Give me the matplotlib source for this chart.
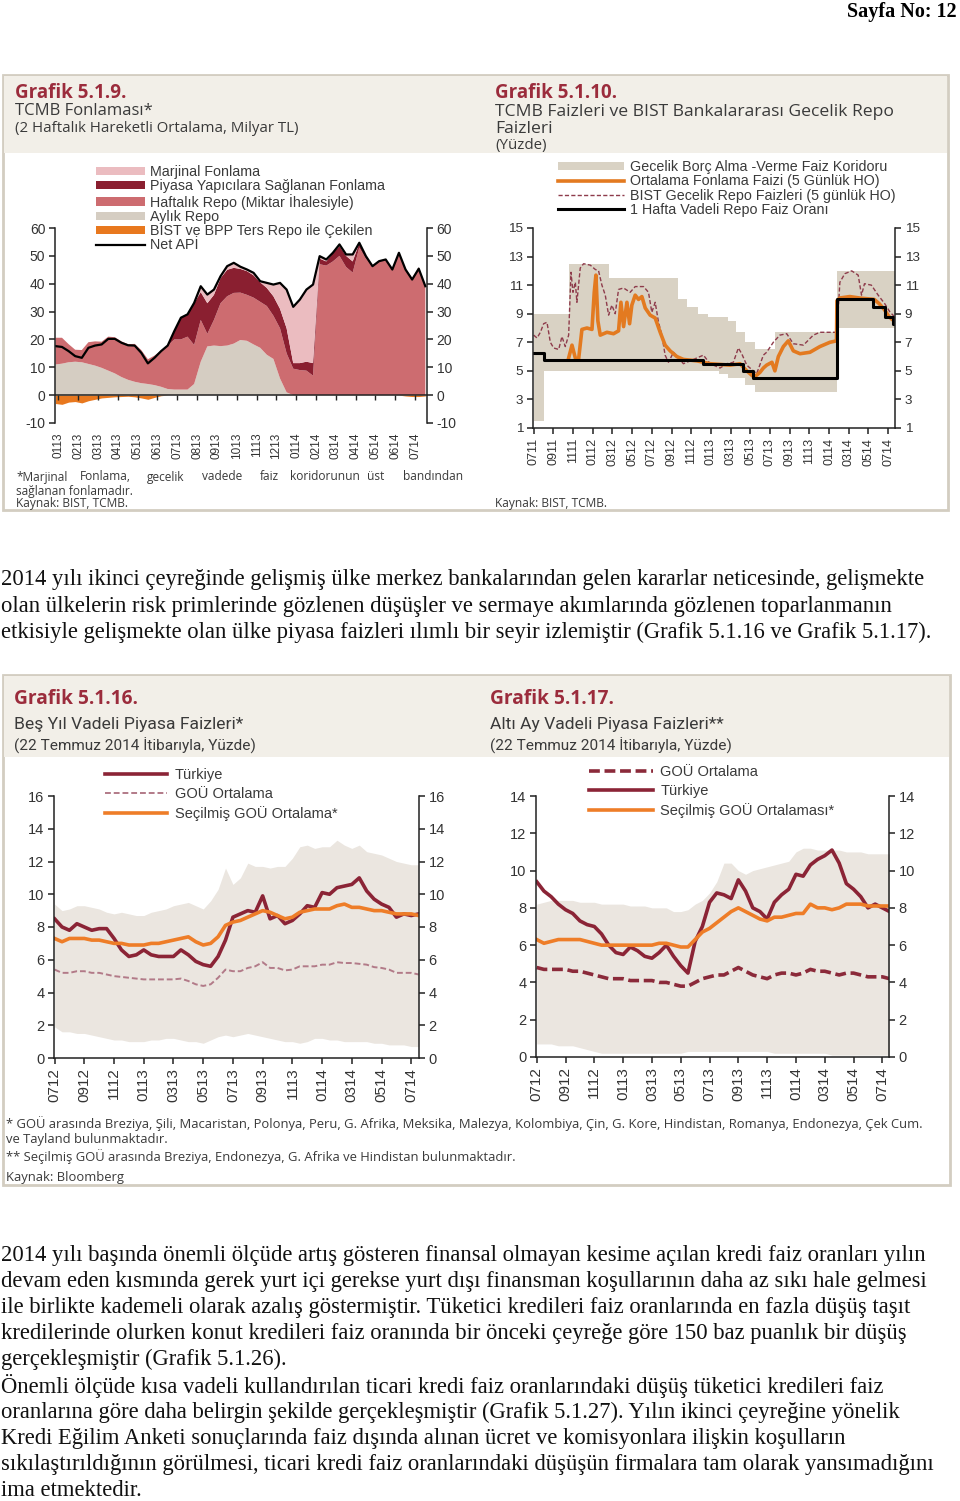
import numpy as np
import matplotlib
matplotlib.use("Agg")
import matplotlib.pyplot as plt
from matplotlib.patches import Rectangle

plt.rcParams["font.family"] = ["Liberation Sans", "DejaVu Sans"]
plt.rcParams["axes.unicode_minus"] = False

# --- Grafik 5.1.9: TCMB fonlamasi (x = months since Jan 2013, ~10 day steps) ---
fund_months = np.arange(57) / 3 - 0.15
aylik_repo = [11.0, 11.3, 11.8, 12.0, 11.8, 11.2, 10.6, 9.8, 8.8, 7.8, 6.5, 5.5, 4.8, 4.3, 4.0,
              3.6, 3.0, 2.2, 2.0, 2.0, 2.0, 4.0, 12.0, 17.5, 17.8, 17.6, 17.8, 18.5, 19.8, 19.5,
              18.2, 17.0, 14.5, 13.0, 6.0, 1.0, 0, 0, 0, 0, 0, 0, 0, 0, 0, 0, 0, 0, 0, 0, 0, 0,
              0, 0, 0, 0, 0]
haftalik_repo = [9.6, 9.3, 6.5, 4.3, 4.4, 7.8, 8.7, 9.4, 12.2, 13.0, 12.8, 12.8, 13.6, 11.9, 8.9,
                 10.6, 13.0, 15.6, 18.0, 18.0, 19.0, 14.0, 15.0, 4.5, 9.2, 15.4, 17.7, 18.2, 17.0,
                 16.5, 16.8, 16.5, 17.5, 15.5, 18.0, 14.0, 9.5, 9.0, 8.8, 7.0, 47.0, 46.5, 48.0,
                 50.0, 46.0, 44.0, 53.0, 49.0, 46.3, 48.1, 48.7, 45.1, 51.1, 45.4, 42.0, 45.9, 39.4]
piyasa_yapici = [0, 0, 0, 0, 0, 0, 0, 0, 0, 0, 0, 0, 0, 0, 0, 0, 0, 0,
                 3.0, 7.8, 8.0, 15.0, 10.0, 11.0, 9.0, 9.0, 9.5, 9.0, 8.5, 8.5, 8.0, 7.0, 6.5,
                 7.0, 7.0, 9.0, 2.0, 2.5, 3.2, 4.5, 2.0, 1.5, 3.0, 3.5, 4.0, 4.0, 1.5, 0.9,
                 0, 0, 0, 0, 0, 0, 0, 0, 0]
marjinal = [0, 0, 0, 0, 0, 0, 0, 0, 0, 0, 0, 0, 0, 0, 0, 0, 0, 0, 0, 0, 0,
            0.1, 2.1, 3.1, 1.9, 0.7, 1.3, 1.8, 0.8, 0.6, 0.9, 0.4, 1.8, 4.2, 9.3, 13.9, 20.2,
            22.8, 25.9, 28.2, 0.9, 0.7, 0.1, 0.6, 0.5, 2.5, 0.2,
            0, 0, 0, 0, 0, 0, 0, 0, 0, 0]
bist_ters_repo = [-3.0, -3.3, -2.5, -2.3, -2.8, -2.0, -1.5, -1.0, -0.8, -0.6, -0.5, -0.4, -0.6,
                  -1.0, -1.5, -0.8, -0.2, 0, 0, 0, 0, 0, 0, 0, 0, 0, 0, 0, 0, 0, 0, 0, 0, 0, 0,
                  0, 0, 0, 0, 0, 0, 0, 0, 0, 0, 0, 0, 0, 0, 0, 0, 0, 0, -0.3, -0.5, -0.5, -0.3]
net_api = [17.6, 17.3, 15.8, 14.0, 13.4, 17.0, 17.8, 18.2, 20.2, 20.2, 18.8, 17.9, 17.8, 15.2,
           11.4, 13.4, 15.8, 17.8, 23.0, 27.8, 29.0, 33.1, 39.1, 36.1, 37.9, 42.7, 46.3, 47.5,
           46.1, 45.1, 43.9, 40.9, 40.3, 39.7, 40.3, 37.9, 31.7, 34.3, 37.9, 39.7, 49.9, 48.7,
           51.1, 54.1, 50.5, 50.5, 54.7, 49.9, 46.3, 48.1, 48.7, 45.1, 51.1, 45.1, 41.5, 45.4, 39.1]
fund_ticks = ["0113", "0213", "0313", "0413", "0513", "0613", "0713", "0813", "0913", "1013",
              "1113", "1213", "0114", "0214", "0314", "0414", "0514", "0614", "0714"]

# --- Grafik 5.1.10: faizler (x = months since Jul 2011) ---
corr_x = [0, 1.0, 3.55, 7.7, 14.7, 15.6, 16.7, 17.7, 18.8, 19.7, 20.6, 21.5, 22.5, 24.5, 30.8, 36.7]
corr_lo = [1.5, 5.0, 5.0, 5.0, 5.0, 5.0, 5.0, 5.0, 4.75, 4.5, 4.5, 4.0, 3.5, 3.5, 8.0, 8.0]
corr_hi = [9.0, 9.0, 12.5, 11.5, 10.0, 9.5, 9.0, 8.75, 8.75, 8.5, 7.75, 7.0, 6.5, 7.75, 12.0, 12.0]
ofr_x = [3.55, 3.89, 4.23, 4.56, 4.90, 5.41, 5.92, 6.15, 6.32, 6.52, 6.76, 7.44, 8.11, 8.62, 8.86,
         9.13, 9.47, 9.74, 9.97, 10.31, 10.65, 10.99, 11.33, 11.83, 12.34, 12.85, 13.35, 13.86,
         14.54, 15.21, 16.57, 17.92, 19.95, 20.96, 21.64, 22.31, 22.65, 22.99, 23.33, 23.66, 24.2,
         24.5, 24.85, 25.36, 25.86, 26.37, 27.05, 28.06, 29.07, 30.09, 30.76, 30.8, 31.1, 32.1,
         33.1, 34.6, 35.1, 35.6, 36.1, 36.4, 36.68]
ofr_rate = [5.9, 6.8, 5.9, 5.8, 7.9, 8.0, 7.9, 10.5, 11.7, 8.5, 7.5, 7.7, 7.6, 7.8, 9.8, 8.1, 9.8,
            8.3, 9.6, 10.3, 10.0, 10.2, 9.4, 8.9, 8.7, 7.7, 6.8, 6.4, 6.0, 5.8, 5.7, 5.5, 5.4, 5.5,
            5.0, 4.6, 4.7, 4.9, 5.2, 5.4, 5.6, 5.0, 6.0, 6.7, 7.1, 6.4, 6.2, 6.3, 6.7, 7.0, 7.1,
            9.9, 10.1, 10.2, 10.1, 10.0, 9.7, 9.3, 8.8, 8.6, 8.5]
bist_x = [0, 0.34, 0.68, 1.01, 1.35, 1.69, 2.03, 2.54, 2.87, 3.21, 3.55, 3.79, 3.99, 4.23, 4.39,
          4.73, 5.07, 5.75, 6.25, 6.59, 6.93, 7.27, 7.61, 7.94, 8.28, 8.62, 9.13, 9.8, 10.31,
          11.16, 11.66, 12.0, 12.34, 12.68, 13.02, 13.35, 13.69, 14.2, 14.71, 15.21, 16.23, 17.24,
          17.92, 18.93, 19.61, 20.28, 20.79, 21.13, 21.64, 22.14, 22.65, 23.33, 23.66, 24.34, 25.0,
          25.7, 26.37, 27.4, 28.4, 29.07, 30.1, 30.8, 31.1, 31.6, 32.3, 32.96, 33.3, 33.6, 34.3,
          34.99, 35.66, 36.2, 36.5, 36.7]
bist_rate = [7.5, 7.3, 7.7, 8.3, 8.4, 7.0, 6.6, 6.5, 7.4, 6.7, 7.5, 11.9, 10.5, 11.2, 9.8, 12.2,
             12.5, 12.4, 12.1, 12.0, 11.0, 10.3, 8.9, 9.6, 9.0, 10.7, 10.8, 10.5, 10.9, 10.9, 10.5,
             9.1, 9.8, 8.4, 7.5, 6.1, 5.6, 6.3, 5.9, 5.5, 5.8, 6.1, 5.5, 5.2, 5.5, 5.6, 6.6, 6.2,
             5.4, 5.1, 4.8, 6.1, 6.3, 7.0, 7.5, 7.6, 6.9, 6.8, 7.5, 7.7, 7.7, 7.7, 11.2, 11.8,
             12.0, 11.7, 10.3, 11.1, 11.0, 10.3, 9.7, 9.1, 8.9, 8.7]
repo_x = [0, 1.0, 17.2, 21.3, 22.3, 30.8, 34.5, 35.7, 36.5, 36.7]
repo_rate = [6.25, 5.75, 5.5, 5.0, 4.5, 10.0, 9.5, 8.75, 8.25, 8.25]
rate_ticks = ["0711", "0911", "1111", "0112", "0312", "0512", "0712", "0912", "1112", "0113",
              "0313", "0513", "0713", "0913", "1113", "0114", "0314", "0514", "0714"]

# --- Grafik 5.1.16 / 5.1.17 (x = months since Jul 2012, half-month steps) ---
mkt_months = np.arange(50) * 0.5
tr_5y = [8.5, 8.0, 7.8, 8.2, 8.0, 7.8, 7.9, 7.9, 7.3, 6.6, 6.2, 6.3, 6.6, 6.3, 6.2, 6.2, 6.2, 6.6,
         6.3, 5.9, 5.7, 5.6, 6.2, 7.2, 8.6, 8.8, 9.0, 8.9, 9.9, 8.5, 8.7, 8.2, 8.4, 8.8, 9.3, 9.2,
         10.1, 10.0, 10.4, 10.5, 10.6, 11.0, 10.2, 9.7, 9.4, 9.2, 8.6, 8.8, 8.7, 8.8]
sec_5y = [7.3, 7.1, 7.3, 7.3, 7.3, 7.2, 7.2, 7.1, 7.0, 7.0, 6.9, 6.9, 6.9, 7.0, 7.0, 7.1, 7.2, 7.3,
          7.4, 7.1, 6.9, 7.0, 7.4, 8.1, 8.3, 8.4, 8.6, 8.8, 9.0, 8.9, 8.7, 8.5, 8.6, 8.9, 9.0, 9.1,
          9.1, 9.1, 9.3, 9.4, 9.2, 9.2, 9.1, 9.0, 9.0, 8.9, 8.8, 8.8, 8.8, 8.7]
gou_5y = [5.4, 5.2, 5.2, 5.3, 5.3, 5.2, 5.2, 5.1, 5.0, 4.95, 4.9, 4.85, 4.8, 4.8, 4.8, 4.8, 4.8,
          4.85, 4.7, 4.5, 4.4, 4.5, 4.9, 5.4, 5.3, 5.3, 5.5, 5.6, 5.85, 5.5, 5.5, 5.35, 5.4, 5.6,
          5.6, 5.6, 5.7, 5.7, 5.85, 5.8, 5.8, 5.75, 5.7, 5.55, 5.5, 5.4, 5.2, 5.2, 5.2, 5.1]
band_5y_hi = [9.4, 9.0, 9.1, 9.3, 9.3, 9.2, 9.1, 8.9, 8.8, 8.9, 8.8, 8.7, 8.7, 8.9, 9.0, 9.1, 9.3,
              9.4, 9.5, 9.3, 9.1, 9.6, 10.3, 11.6, 10.6, 11.0, 11.9, 11.7, 11.7, 11.6, 11.7, 11.7,
              12.2, 12.9, 13.0, 12.8, 12.9, 12.9, 13.3, 13.0, 12.8, 13.0, 12.6, 12.5, 12.4, 12.2,
              12.0, 11.9, 11.8, 11.8]
band_5y_lo = [1.9, 1.6, 1.6, 1.5, 1.5, 1.4, 1.3, 1.2, 1.1, 1.1, 1.0, 1.0, 1.0, 1.1, 1.1, 1.2, 1.2,
              1.1, 1.0, 1.0, 0.9, 1.1, 1.3, 1.4, 1.3, 1.4, 1.5, 1.4, 1.3, 1.2, 1.1, 1.0, 1.0, 0.9,
              1.0, 1.2, 1.2, 1.1, 1.1, 1.0, 1.0, 1.0, 1.0, 0.9, 0.9, 0.8, 0.8, 0.8, 0.7, 0.7]
tr_6m = [9.4, 8.9, 8.6, 8.2, 7.9, 7.7, 7.3, 7.1, 7.0, 6.6, 6.0, 5.6, 5.5, 5.9, 5.7, 5.4, 5.3, 5.6,
         6.0, 5.4, 4.9, 4.5, 6.2, 7.0, 8.3, 8.8, 8.7, 8.5, 9.5, 8.9, 8.0, 7.8, 7.4, 8.3, 8.7, 9.0,
         9.8, 9.7, 10.3, 10.6, 10.8, 11.1, 10.4, 9.3, 9.0, 8.6, 8.0, 8.2, 8.0, 7.8]
sec_6m = [6.3, 6.1, 6.2, 6.3, 6.3, 6.3, 6.3, 6.2, 6.1, 6.0, 6.0, 6.0, 6.0, 6.0, 6.0, 6.0, 6.0, 6.1,
          6.1, 6.0, 5.9, 5.9, 6.3, 6.7, 6.9, 7.2, 7.5, 7.8, 8.0, 7.8, 7.6, 7.4, 7.3, 7.5, 7.5, 7.6,
          7.7, 7.7, 8.2, 8.0, 8.0, 7.9, 8.0, 8.2, 8.2, 8.2, 8.1, 8.1, 8.1, 8.1]
gou_6m = [4.8, 4.7, 4.7, 4.7, 4.7, 4.6, 4.6, 4.5, 4.4, 4.3, 4.2, 4.2, 4.2, 4.1, 4.1, 4.1, 4.1, 4.0,
          4.0, 3.9, 3.8, 3.8, 4.0, 4.2, 4.3, 4.4, 4.4, 4.6, 4.8, 4.6, 4.4, 4.3, 4.2, 4.4, 4.5, 4.5,
          4.4, 4.5, 4.7, 4.6, 4.6, 4.5, 4.4, 4.5, 4.5, 4.4, 4.3, 4.3, 4.3, 4.2]
band_6m_hi = [8.2, 8.3, 8.4, 8.4, 8.4, 8.4, 8.3, 8.3, 8.3, 8.2, 8.2, 8.2, 8.2, 8.1, 8.1, 8.1, 8.0,
              8.0, 8.0, 7.8, 7.8, 7.9, 8.2, 8.4, 8.8, 9.4, 10.4, 10.4, 10.0, 9.8, 10.0, 10.1, 10.2,
              10.3, 10.4, 10.5, 11.0, 11.2, 11.2, 11.1, 11.1, 11.1, 11.1, 11.0, 11.0, 11.0, 10.9,
              10.9, 10.9, 10.9]
band_6m_lo = [0.7, 0.7, 0.7, 0.6, 0.6, 0.6, 0.5, 0.4, 0.3, 0.2, 0.2, 0.2, 0.2, 0.2, 0.2, 0.2, 0.2,
              0.2, 0.2, 0.2, 0.2, 0.3, 0.3, 0.3, 0.3, 0.3, 0.3, 0.3, 0.3, 0.3, 0.3, 0.3, 0.3, 0.2,
              0.2, 0.2, 0.2, 0.2, 0.2, 0.2, 0.2, 0.1, 0.1, 0.1, 0.1, 0.1, 0.1, 0.1, 0.1, 0.1]
mkt_ticks = ["0712", "0912", "1112", "0113", "0313", "0513", "0713", "0913", "1113", "0114",
             "0314", "0514", "0714"]

TITLE_RED = "#9b2c3c"
SUB = "#3a3a3a"
TICK = "#333333"
FRAME = "#d3cdc1"
HEAD = "#f2efe8"

W, H = 960, 1501
fig = plt.figure(figsize=(W / 100, H / 100), dpi=100)
fig.patch.set_facecolor("white")

# background axes in pixel units for boxes and texts
bg = fig.add_axes([0, 0, 1, 1])
bg.set_xlim(0, W)
bg.set_ylim(H, 0)
bg.axis("off")


def add_ax(x0, y0, x1, y1, yfs, xfs):
    ax = fig.add_axes([x0 / W, 1 - y1 / H, (x1 - x0) / W, (y1 - y0) / H])
    ax.set_facecolor("none")
    ax.spines["top"].set_visible(False)
    for s in ("left", "right", "bottom"):
        ax.spines[s].set_linewidth(1.1)
        ax.spines[s].set_color("#222222")
    ax.tick_params(axis="y", left=True, right=True, labelleft=True, labelright=True,
                   direction="out", length=4, width=1.1, color="#222222",
                   labelcolor=TICK, labelsize=yfs, pad=3)
    ax.tick_params(axis="x", direction="out", length=4, width=1.1, color="#222222",
                   labelcolor=TICK, labelsize=xfs, labelrotation=90, pad=3)
    return ax


# --- panels ---
bg.add_patch(Rectangle((3, 75), 945, 435, fc="white", ec=FRAME, lw=2))
bg.add_patch(Rectangle((4, 76), 943, 77, fc=HEAD, ec="none"))
bg.add_patch(Rectangle((3, 675), 947, 510, fc="white", ec=FRAME, lw=2))
bg.add_patch(Rectangle((4, 676), 945, 81, fc=HEAD, ec="none"))

bg.text(957, 12, "Sayfa No: 12", ha="right", va="center", fontsize=14.5, fontweight="bold",
        family="Liberation Serif")

# titles
tfont = "Open Sans"
bg.text(15, 93, "Grafik 5.1.9.", color=TITLE_RED, fontsize=13.5, fontweight="bold", family=tfont, va="center")
bg.text(15, 111, "TCMB Fonlaması*", color=SUB, fontsize=12, family=tfont, va="center")
bg.text(15, 128, "(2 Haftalık Hareketli Ortalama, Milyar TL)", color=SUB, fontsize=10.8, family=tfont, va="center")
bg.text(495, 93, "Grafik 5.1.10.", color=TITLE_RED, fontsize=13.5, fontweight="bold", family=tfont, va="center")
bg.text(495, 112, "TCMB Faizleri ve BIST Bankalararası Gecelik Repo", color=SUB, fontsize=12.6, family=tfont, va="center")
bg.text(495, 129, "Faizleri", color=SUB, fontsize=12.6, family=tfont, va="center")
bg.text(495, 146, "(Yüzde)", color=SUB, fontsize=10.8, family=tfont, va="center")

bfont = "Roboto"
bg.text(14, 699, "Grafik 5.1.16.", color=TITLE_RED, fontsize=13.8, fontweight="bold", family=tfont, va="center")
bg.text(14, 724, "Beş Yıl Vadeli Piyasa Faizleri*", color=SUB, fontsize=12.6, family=bfont, va="center")
bg.text(14, 746, "(22 Temmuz 2014 İtibarıyla, Yüzde)", color=SUB, fontsize=11.1, family=bfont, va="center")
bg.text(490, 699, "Grafik 5.1.17.", color=TITLE_RED, fontsize=13.8, fontweight="bold", family=tfont, va="center")
bg.text(490, 724, "Altı Ay Vadeli Piyasa Faizleri**", color=SUB, fontsize=12.6, family=bfont, va="center")
bg.text(490, 746, "(22 Temmuz 2014 İtibarıyla, Yüzde)", color=SUB, fontsize=11.1, family=bfont, va="center")

# footnotes
foot_words = [("*Marjinal", 16), ("Fonlama,", 80), ("gecelik", 147), ("vadede", 202), ("faiz", 260),
              ("koridorunun", 290), ("üst", 367), ("bandından", 403)]
for w, x in foot_words:
    bg.text(x, 477, w, fontsize=8.6, family=tfont, color=SUB, va="center")
bg.text(16, 491, "sağlanan fonlamadır.", fontsize=8.6, family=tfont, color=SUB, va="center")
bg.text(16, 504, "Kaynak: BIST, TCMB.", fontsize=8.6, family=tfont, color=SUB, va="center")
bg.text(495, 503, "Kaynak: BIST, TCMB.", fontsize=8.6, family=tfont, color=SUB, va="center")

ffs = 9.4
bg.text(6, 1124, "* GOÜ arasında Breziya, Şili, Macaristan, Polonya, Peru, G. Afrika, Meksika, Malezya, "
        "Kolombiya, Çin, G. Kore, Hindistan, Romanya, Endonezya, Çek Cum.",
        fontsize=ffs, family=tfont, color=SUB, va="center")
bg.text(6, 1140, "ve Tayland bulunmaktadır.", fontsize=ffs, family=tfont, color=SUB, va="center")
bg.text(6, 1157, "** Seçilmiş GOÜ arasında Breziya, Endonezya, G. Afrika ve Hindistan bulunmaktadır.",
        fontsize=ffs, family=tfont, color=SUB, va="center")
bg.text(6, 1177, "Kaynak: Bloomberg", fontsize=ffs, family=tfont, color=SUB, va="center")

# body text
para1 = ["2014 yılı ikinci çeyreğinde gelişmiş ülke merkez bankalarından gelen kararlar neticesinde, gelişmekte",
         "olan ülkelerin risk primlerinde gözlenen düşüşler ve sermaye akımlarında gözlenen toparlanmanın",
         "etkisiyle gelişmekte olan ülke piyasa faizleri ılımlı bir seyir izlemiştir (Grafik 5.1.16 ve Grafik 5.1.17)."]
para2 = ["2014 yılı başında önemli ölçüde artış gösteren finansal olmayan kesime açılan kredi faiz oranları yılın",
         "devam eden kısmında gerek yurt içi gerekse yurt dışı finansman koşullarının daha az sıkı hale gelmesi",
         "ile birlikte kademeli olarak azalış göstermiştir. Tüketici kredileri faiz oranlarında en fazla düşüş taşıt",
         "kredilerinde olurken konut kredileri faiz oranında bir önceki çeyreğe göre 150 baz puanlık bir düşüş",
         "gerçekleşmiştir (Grafik 5.1.26).",
         "Önemli ölçüde kısa vadeli kullandırılan ticari kredi faiz oranlarındaki düşüş tüketici kredileri faiz",
         "oranlarına göre daha belirgin şekilde gerçekleşmiştir (Grafik 5.1.27). Yılın ikinci çeyreğine yönelik",
         "Kredi Eğilim Anketi sonuçlarında faiz dışında alınan ücret ve komisyonlara ilişkin koşulların",
         "sıkılaştırıldığının görülmesi, ticari kredi faiz oranlarındaki düşüşün firmalara tam olarak yansımadığını",
         "ima etmektedir."]
for i, line in enumerate(para1):
    bg.text(1, 580 + i * 26.2, line, fontsize=16.3, family="Liberation Serif", va="center", color="#111111")
for i, line in enumerate(para2):
    bg.text(1, 1255 + i * 26.2, line, fontsize=16.3, family="Liberation Serif", va="center", color="#111111")

# --- Grafik 5.1.9 ---
ax1 = add_ax(55, 228, 427, 423, 10, 8.5)
polys = ax1.stackplot(fund_months, aylik_repo, haftalik_repo, piyasa_yapici, marjinal,
                      colors=["#d5cdc2", "#cd6c70", "#8a1f30", "#ebbcc0"], lw=0)
bist_poly = ax1.fill_between(fund_months, bist_ters_repo, 0, color="#e8781e", lw=0)
net_line, = ax1.plot(fund_months, net_api, color="black", lw=1.6)
ax1.axhline(0, color="#222222", lw=1.1)
ax1.vlines(np.arange(len(fund_ticks)), -1.7, 0, color="#222222", lw=1.0)
ax1.set_ylim(-10, 60)
ax1.set_yticks(range(-10, 61, 10))
ax1.set_xlim(-0.17, 18.6)
ax1.set_xticks(np.arange(len(fund_ticks)), fund_ticks)
ax1.tick_params(axis="x", length=0, pad=7)
ax1.spines["bottom"].set_visible(False)
ax1.legend([polys[3], polys[2], polys[1], polys[0], bist_poly, net_line],
           ["Marjinal Fonlama", "Piyasa Yapıcılara Sağlanan Fonlama", "Haftalık Repo (Miktar İhalesiyle)",
            "Aylık Repo", "BIST ve BPP Ters Repo ile Çekilen", "Net APİ"],
           loc="upper left", bbox_to_anchor=(96, 165), bbox_transform=bg.transData, frameon=False,
           fontsize=10.3, labelcolor=SUB, handlelength=3.4, handleheight=0.5, handletextpad=0.35,
           labelspacing=0.02, borderpad=0, borderaxespad=0)

# --- Grafik 5.1.10 ---
ax2 = add_ax(533, 228, 895, 428, 9.7, 9)
corr = ax2.fill_between(corr_x, corr_lo, corr_hi, step="post", color="#d9d2c4", lw=0)
bist_line, = ax2.plot(bist_x, bist_rate, color="#8e3b4b", lw=1.0, ls=(0, (3, 1.6)))
ofr_line, = ax2.plot(ofr_x, ofr_rate, color="#e37a20", lw=2.6)
repo_line, = ax2.step(repo_x, repo_rate, where="post", color="black", lw=2.2)
ax2.set_ylim(1, 15)
ax2.set_yticks(range(1, 16, 2))
ax2.set_xlim(-0.07, 36.7)
ax2.set_xticks(np.arange(0, 37, 2), rate_ticks)
ax2.legend([corr, ofr_line, bist_line, repo_line],
           ["Gecelik Borç Alma -Verme Faiz Koridoru", "Ortalama Fonlama Faizi (5 Günlük HO)",
            "BIST Gecelik Repo Faizleri (5 günlük HO)", "1 Hafta Vadeli Repo Faiz Oranı"],
           loc="upper left", bbox_to_anchor=(558, 160), bbox_transform=bg.transData, frameon=False,
           fontsize=10.3, labelcolor=SUB, handlelength=4.6, handleheight=0.5, handletextpad=0.42,
           labelspacing=0.02, borderpad=0, borderaxespad=0)

# --- Grafik 5.1.16 ---
ax3 = add_ax(54, 796, 419, 1058, 10.5, 11)
ax3.fill_between(mkt_months, band_5y_lo, band_5y_hi, color="#ebe6e0", lw=0)
g5, = ax3.plot(mkt_months, gou_5y, color="#b27a88", lw=1.4, ls=(0, (3, 1.5)))
t5, = ax3.plot(mkt_months, tr_5y, color="#8b2436", lw=2.6)
s5, = ax3.plot(mkt_months, sec_5y, color="#ee7d28", lw=2.6)
ax3.set_ylim(0, 16)
ax3.set_yticks(range(0, 17, 2))
ax3.set_xlim(-0.04, 24.52)
ax3.set_xticks(np.arange(0, 25, 2), mkt_ticks)
ax3.legend([t5, g5, s5], ["Türkiye", "GOÜ Ortalama", "Seçilmiş GOÜ Ortalama*"],
           loc="upper left", bbox_to_anchor=(105, 768), bbox_transform=bg.transData, frameon=False,
           fontsize=10.5, labelcolor=SUB, handlelength=4.25, handletextpad=0.55,
           labelspacing=0.34, borderpad=0, borderaxespad=0)

# --- Grafik 5.1.17 ---
ax4 = add_ax(536, 796, 889, 1057, 10.5, 11)
ax4.fill_between(mkt_months, band_6m_lo, band_6m_hi, color="#ebe6e0", lw=0)
g6, = ax4.plot(mkt_months, gou_6m, color="#8b2a3a", lw=2.6, ls=(0, (3, 1.3)))
t6, = ax4.plot(mkt_months, tr_6m, color="#8b2436", lw=2.6)
s6, = ax4.plot(mkt_months, sec_6m, color="#ee7d28", lw=2.6)
ax4.set_ylim(0, 14)
ax4.set_yticks(range(0, 15, 2))
ax4.set_xlim(-0.05, 24.46)
ax4.set_xticks(np.arange(0, 25, 2), mkt_ticks)
ax4.legend([g6, t6, s6], ["GOÜ Ortalama", "Türkiye", "Seçilmiş GOÜ Ortalaması*"],
           loc="upper left", bbox_to_anchor=(589, 765), bbox_transform=bg.transData, frameon=False,
           fontsize=10.5, labelcolor=SUB, handlelength=4.4, handletextpad=0.48,
           labelspacing=0.34, borderpad=0, borderaxespad=0)

fig.savefig("out.png", dpi=100)
